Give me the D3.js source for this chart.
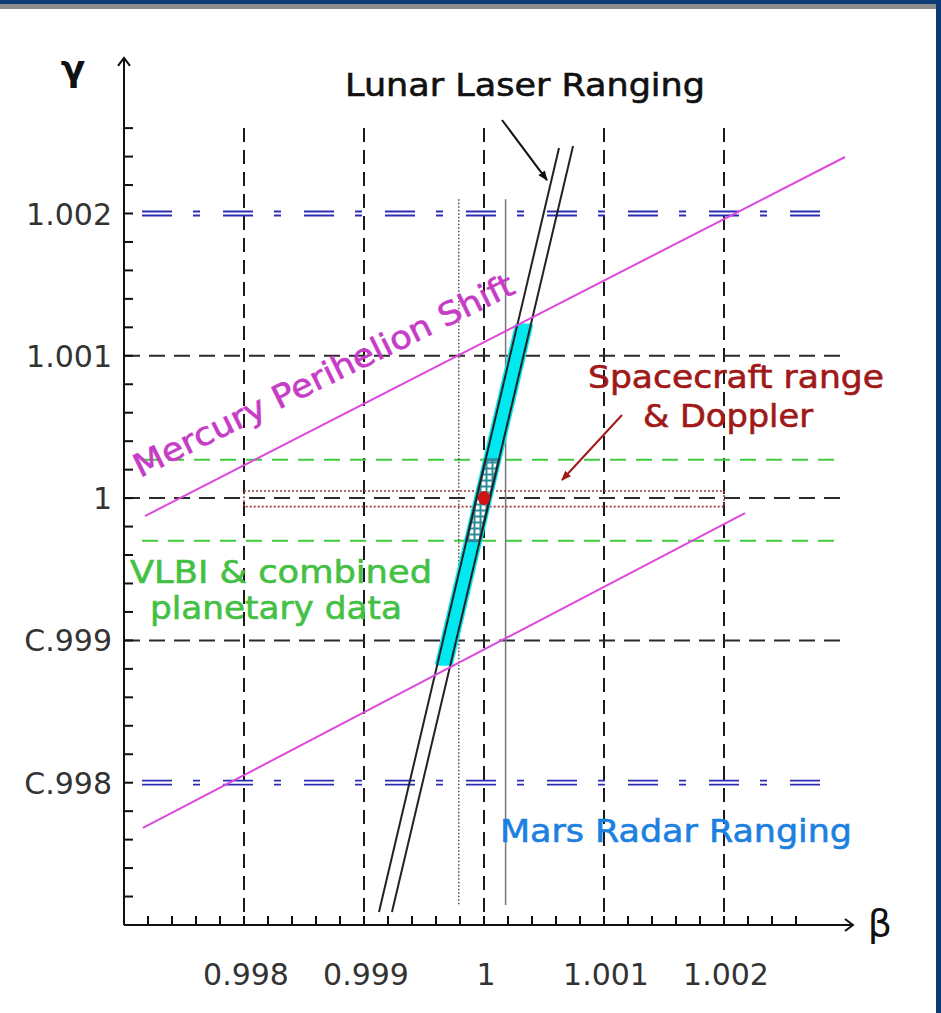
<!DOCTYPE html>
<html>
<head>
<meta charset="utf-8">
<script src="https://cdn.jsdelivr.net/npm/d3@7"></script>
<style>
  html, body { margin: 0; padding: 0; background: #fff; }
  svg { display: block; }
</style>
</head>
<body>
<div id="viz"></div>
<script>
/***************** Data *********************/
var xTicks = [0.998, 0.999, 1, 1.001, 1.002];
var xTickLabels = ["0.998", "0.999", "1", "1.001", "1.002"];
var yTicks = [0.998, 0.999, 1, 1.001, 1.002];
var yTickLabels = ["C.998", "C.999", "1", "1.001", "1.002"];
var minorStep = 0.0002;
var minorMax = 1.0026;

var gridBetaTop = 1.0026;          // vertical dashed lines end here
var gridGammaRight = 1.00301;      // horizontal dashed lines end here
var blackGridGamma = [0.999, 1, 1.001];

var blueGamma = [0.998, 1.002];    // Mars radar ranging bounds on gamma
var blueBeta = [0.99715, 1.00293];

var vlbiGamma = [0.9997, 1.00027]; // VLBI & combined planetary data
var vlbiBeta = [0.99715, 1.00293];

var craftBeta = [0.998, 1.002];     // spacecraft range & Doppler
var craftGamma = [0.99994, 1.00005];

var marsBeta = [0.99979, 1.00018];  // thin vertical lines
var marsGamma = [0.99714, 1.0021];

var llrLeft = [[0.999125, 0.997091], [1.000625, 1.00246]];
var llrRight = [[0.999233, 0.997091], [1.000742, 1.002474]];
var llrCyanGamma = [0.99884, 1.00121];

var mercuryUpper = [[0.997175, 0.999874], [1.003008, 1.002397]];
var mercuryLower = [[0.997158, 0.997682], [1.002175, 0.999895]];

var bestFit = [1, 1];

var llrArrow = [[1.00015, 1.002657], [1.000525, 1.002235]];
var craftArrow = [[1.00115, 1.000584], [1.00065, 1.000127]];

/***************** Layout *********************/
var W = 941, H = 1013,
    x0 = 124, y0 = 925,
    pxBeta = 120, pxGamma = 142.3,
    font = "'DejaVu Sans', Verdana, sans-serif";

var x = d3.scaleLinear().domain([0.997, 0.998]).range([x0, x0 + pxBeta]);
var y = d3.scaleLinear().domain([0.997, 0.998]).range([y0, y0 - pxGamma]);

var svg = d3.select("#viz").append("svg")
    .attr("width", W)
    .attr("height", H);

/* frame */
svg.append("rect").attr("x", 0).attr("y", 0).attr("width", W).attr("height", 4).attr("fill", "#0c3a74");
svg.append("rect").attr("x", 0).attr("y", 4).attr("width", W).attr("height", 5).attr("fill", "#8c8c8c");
svg.append("rect").attr("x", 936).attr("y", 0).attr("width", 5).attr("height", H).attr("fill", "#0c3a74");

var defs = svg.append("defs");
var chk = defs.append("pattern")
    .attr("id", "chk")
    .attr("width", 6).attr("height", 6)
    .attr("patternUnits", "userSpaceOnUse");
chk.append("rect").attr("width", 6).attr("height", 6).attr("fill", "#2b8d9a");
chk.append("rect").attr("x", 1.5).attr("y", 1.5).attr("width", 4).attr("height", 4).attr("fill", "#ffffff");

function marker(id, color) {
  defs.append("marker")
    .attr("id", id)
    .attr("viewBox", "0 0 10 10")
    .attr("refX", 9).attr("refY", 5)
    .attr("markerWidth", 5).attr("markerHeight", 5)
    .attr("orient", "auto")
    .append("path")
    .attr("d", "M0,1 L10,5 L0,9 Z")
    .attr("fill", color);
}
marker("headBlack", "#111");
marker("headRed", "#a01818");

var line = d3.line().x(function(d) { return x(d[0]); }).y(function(d) { return y(d[1]); });

/***************** Grid *********************/
svg.selectAll(".vgrid").data(xTicks).enter()
  .append("line")
  .attr("class", "vgrid")
  .attr("x1", function(d) { return x(d); })
  .attr("x2", function(d) { return x(d); })
  .attr("y1", y(gridBetaTop))
  .attr("y2", y0)
  .attr("stroke", "#1a1a1a")
  .attr("stroke-width", 2)
  .attr("stroke-dasharray", "14,8");

svg.selectAll(".hgrid").data(blackGridGamma).enter()
  .append("line")
  .attr("class", "hgrid")
  .attr("x1", x0)
  .attr("x2", x(gridGammaRight))
  .attr("y1", function(d) { return y(d); })
  .attr("y2", function(d) { return y(d); })
  .attr("stroke", "#2a2a2a")
  .attr("stroke-width", 2)
  .attr("stroke-dasharray", "16,9");

/* Mars radar ranging: double blue dash-dot */
blueGamma.forEach(function(g) {
  [-2, 2].forEach(function(off) {
    svg.append("line")
      .attr("x1", x(blueBeta[0])).attr("x2", x(blueBeta[1]))
      .attr("y1", y(g) + off).attr("y2", y(g) + off)
      .attr("stroke", "#2c2cb4")
      .attr("stroke-width", 1.8)
      .attr("stroke-dasharray", "30,21,7,23");
  });
});

/* VLBI green dashes */
svg.selectAll(".vlbi").data(vlbiGamma).enter()
  .append("line")
  .attr("class", "vlbi")
  .attr("x1", x(vlbiBeta[0])).attr("x2", x(vlbiBeta[1]))
  .attr("y1", function(d) { return y(d); })
  .attr("y2", function(d) { return y(d); })
  .attr("stroke", "#3fcc3f")
  .attr("stroke-width", 2)
  .attr("stroke-dasharray", "16,10");

/* thin vertical lines */
svg.append("line")
  .attr("x1", x(marsBeta[0])).attr("x2", x(marsBeta[0]))
  .attr("y1", y(marsGamma[1])).attr("y2", y(marsGamma[0]))
  .attr("stroke", "#333").attr("stroke-width", 1.3)
  .attr("stroke-dasharray", "1.5,2");
svg.append("line")
  .attr("x1", x(marsBeta[1])).attr("x2", x(marsBeta[1]))
  .attr("y1", y(marsGamma[1])).attr("y2", y(marsGamma[0]))
  .attr("stroke", "#777").attr("stroke-width", 1.5);

/* spacecraft range & Doppler box */
svg.append("rect")
  .attr("x", x(craftBeta[0]))
  .attr("y", y(craftGamma[1]))
  .attr("width", x(craftBeta[1]) - x(craftBeta[0]))
  .attr("height", y(craftGamma[0]) - y(craftGamma[1]))
  .attr("fill", "none")
  .attr("stroke", "#9a3c3c")
  .attr("stroke-width", 1.6)
  .attr("stroke-dasharray", "2,2");

/***************** Lunar Laser Ranging *********************/
function atGamma(seg, g) {
  var t = (g - seg[0][1]) / (seg[1][1] - seg[0][1]);
  return [seg[0][0] + t * (seg[1][0] - seg[0][0]), g];
}
function band(g0, g1) {
  return [atGamma(llrLeft, g0), atGamma(llrLeft, g1), atGamma(llrRight, g1), atGamma(llrRight, g0)];
}

svg.append("path")
  .attr("d", line(band(llrCyanGamma[0], llrCyanGamma[1])) + "Z")
  .attr("fill", "#00e8f0")
  .attr("stroke", "#00e8f0")
  .attr("stroke-width", 5)
  .attr("stroke-linejoin", "round");

svg.append("path")
  .attr("d", line(band(vlbiGamma[0], vlbiGamma[1])) + "Z")
  .attr("fill", "url(#chk)")
  .attr("stroke", "#2b8d9a")
  .attr("stroke-width", 3);

[llrLeft, llrRight].forEach(function(seg) {
  svg.append("path")
    .attr("d", line(seg))
    .attr("fill", "none")
    .attr("stroke", "#222")
    .attr("stroke-width", 2);
});

svg.append("ellipse")
  .attr("cx", x(bestFit[0])).attr("cy", y(bestFit[1]))
  .attr("rx", 6).attr("ry", 7)
  .attr("fill", "#d01212");

/***************** Mercury *********************/
[mercuryUpper, mercuryLower].forEach(function(seg) {
  svg.append("path")
    .attr("d", line(seg))
    .attr("fill", "none")
    .attr("stroke", "#dd48dd")
    .attr("stroke-width", 2);
});

/***************** Axes *********************/
var minorX = d3.range(0.997 + minorStep, minorMax + 1e-9, minorStep);
var minorY = d3.range(0.997 + minorStep, minorMax + 1e-9, minorStep);

svg.selectAll(".xtick").data(minorX).enter()
  .append("line")
  .attr("x1", function(d) { return x(d); })
  .attr("x2", function(d) { return x(d); })
  .attr("y1", y0).attr("y2", y0 - 9)
  .attr("stroke", "#111").attr("stroke-width", 2);

svg.selectAll(".ytick").data(minorY).enter()
  .append("line")
  .attr("y1", function(d) { return y(d); })
  .attr("y2", function(d) { return y(d); })
  .attr("x1", x0).attr("x2", x0 + 9)
  .attr("stroke", "#111").attr("stroke-width", 2);

var xEnd = x(1.003075), yEnd = y(1.003093);
svg.append("line").attr("x1", x0).attr("x2", xEnd).attr("y1", y0).attr("y2", y0)
  .attr("stroke", "#111").attr("stroke-width", 2);
svg.append("line").attr("x1", x0).attr("x2", x0).attr("y1", y0).attr("y2", yEnd)
  .attr("stroke", "#111").attr("stroke-width", 2);
svg.append("path")
  .attr("d", "M" + (xEnd - 8) + "," + (y0 - 6) + "L" + xEnd + "," + y0 + "L" + (xEnd - 8) + "," + (y0 + 6))
  .attr("fill", "none").attr("stroke", "#111").attr("stroke-width", 2);
svg.append("path")
  .attr("d", "M" + (x0 - 6) + "," + (yEnd + 8) + "L" + x0 + "," + yEnd + "L" + (x0 + 6) + "," + (yEnd + 8))
  .attr("fill", "none").attr("stroke", "#111").attr("stroke-width", 2);

svg.selectAll(".xlab").data(xTicks).enter()
  .append("text")
  .attr("x", function(d) { return x(d) + 2; })
  .attr("y", 985)
  .attr("text-anchor", "middle")
  .style("font-family", font).style("font-size", "30px")
  .attr("fill", "#333")
  .text(function(d, i) { return xTickLabels[i]; });

svg.selectAll(".ylab").data(yTicks).enter()
  .append("text")
  .attr("x", 112)
  .attr("y", function(d) { return y(d) + 11; })
  .attr("text-anchor", "end")
  .style("font-family", font).style("font-size", "30px")
  .attr("fill", "#333")
  .text(function(d, i) { return yTickLabels[i]; });

svg.append("text").attr("x", 880).attr("y", 936)
  .attr("text-anchor", "middle")
  .style("font-family", font).style("font-size", "38px")
  .attr("fill", "#111").text("β");
svg.append("text").attr("x", 73).attr("y", 81)
  .attr("text-anchor", "middle")
  .style("font-family", font).style("font-size", "36px").style("font-weight", "bold")
  .attr("fill", "#111").text("γ");

/***************** Annotations *********************/
svg.append("path")
  .attr("d", line(llrArrow))
  .attr("stroke", "#111").attr("stroke-width", 2)
  .attr("marker-end", "url(#headBlack)");
svg.append("path")
  .attr("d", line(craftArrow))
  .attr("stroke", "#a01818").attr("stroke-width", 2)
  .attr("marker-end", "url(#headRed)");

function label(txt, px, py, color, len, anchor) {
  return svg.append("text")
    .attr("x", px).attr("y", py)
    .attr("text-anchor", anchor || "start")
    .attr("textLength", len)
    .attr("lengthAdjust", "spacingAndGlyphs")
    .style("font-family", font).style("font-size", "32px")
    .attr("fill", color)
    .attr("stroke", color)
    .attr("stroke-width", 0.6)
    .text(txt);
}

label("Lunar Laser Ranging", 345, 96, "#111", 360);
label("Spacecraft range", 736, 388, "#a01818", 296, "middle");
label("& Doppler", 728, 427, "#a01818", 170, "middle");
label("VLBI & combined", 281, 583, "#44c044", 302, "middle");
label("planetary data", 276, 619, "#44c044", 252, "middle");
label("Mars Radar Ranging", 500, 842, "#1c80e0", 352);
label("Mercury Perihelion Shift", 0, 0, "#c63cc6", 420)
  .attr("transform", "translate(140,478) rotate(-26.2)");
</script>
</body>
</html>
